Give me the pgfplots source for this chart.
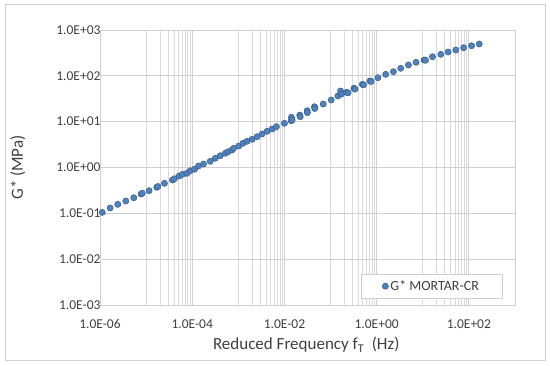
\documentclass[border=0pt]{standalone}
\usepackage{fontspec}
\setmainfont{Carlito}
\usepackage{pgfplots}
\pgfplotsset{compat=1.18}
\definecolor{mk}{HTML}{4F81BD}
\definecolor{mkd}{HTML}{385D8A}
\definecolor{txt}{HTML}{404040}
\definecolor{grd}{HTML}{D0D0D0}
\begin{document}
\begin{tikzpicture}[x=1pt,y=1pt]
\useasboundingbox (0,0) rectangle (550,365);
\draw[color=grd, line width=1pt] (5,5) rectangle (545,360);
\begin{axis}[
  at={(100pt,60pt)}, anchor=south west,
  scale only axis, width=415pt, height=275pt,
  xmode=log, ymode=log,
  xmin=1e-6, xmax=1e3, ymin=1e-3, ymax=1e3,
  xtick={1e-6,1e-4,1e-2,1,1e2},
  xticklabels={1.0E-06,1.0E-04,1.0E-02,1.0E+00,1.0E+02},
  ytick={1e-3,1e-2,1e-1,1,1e1,1e2,1e3},
  yticklabels={1.0E-03,1.0E-02,1.0E-01,1.0E+00,1.0E+01,1.0E+02,1.0E+03},
  minor xtick={1e-5,2e-5,3e-5,4e-5,5e-5,6e-5,7e-5,8e-5,9e-5,
               1e-3,2e-3,3e-3,4e-3,5e-3,6e-3,7e-3,8e-3,9e-3,
               1e-1,2e-1,3e-1,4e-1,5e-1,6e-1,7e-1,8e-1,9e-1,
               10,20,30,40,50,60,70,80,90},
  minor ytick={},
  xmajorgrids, xminorgrids, ymajorgrids,
  major grid style={grd, line width=0.8pt},
  minor grid style={grd!80, line width=0.6pt},
  major tick length=0pt, minor tick length=0pt,
  axis line style={grd, line width=0.8pt},
  tick label style={font=\fontsize{13.5}{15}\selectfont, text=txt},
  xticklabel style={anchor=center, yshift=-19pt},
  yticklabel style={anchor=east, xshift=4pt},
  xlabel={Reduced Frequency f\textsubscript{T}\ \ (Hz)},
  ylabel={G* (MPa)},
  label style={font=\fontsize{17}{20}\selectfont, text=txt},
  xlabel style={at={(axis description cs:0.497,-0.145)}, anchor=center},
  ylabel style={at={(axis description cs:-0.198,0.5)}, anchor=center, rotate=0},
  legend style={at={(0.969,0.025)}, anchor=south east, draw=grd, fill=white,
    font=\fontsize{14}{16}\selectfont, text=txt, inner xsep=21pt, inner ysep=4pt},
  legend cell align=left,
]
\addplot[only marks, mark=*, mark size=3.1pt, mark options={fill=mk, draw=mkd, line width=0.5pt}]
coordinates {
(1.12e-6,0.105) (1.66e-6,0.131) (2.43e-6,0.157) (3.63e-6,0.186) (5.41e-6,0.219)
(7.78e-6,0.264) (8.3e-6,0.275) (1.16e-5,0.312) (1.71e-5,0.370) (1.80e-5,0.385) (2.50e-5,0.452)
(3.73e-5,0.533) (4.12e-5,0.569) (5.21e-5,0.652) (6.15e-5,0.710) (7.67e-5,0.746)
(9.06e-5,0.851) (1.12e-4,0.914) (1.37e-4,1.079) (1.76e-4,1.191) (2.46e-4,1.365)
(3.16e-4,1.589) (4.06e-4,1.807) (5.21e-4,2.042) (6.0e-4,2.20) (7.29e-4,2.410) (7.91e-4,2.624)
(1.02e-3,2.944) (1.26e-3,3.373) (1.55e-3,3.733) (1.99e-3,4.121) (2.55e-3,4.699)
(3.27e-3,5.383) (4.21e-3,6.166) (5.41e-3,6.918) (6.70e-3,7.762) (1.0e-2,9.20)
(1.40e-2,10.5) (1.42e-2,12.45) (1.47e-2,10.86) (2.15e-2,13.96) (2.20e-2,12.8) (3.11e-2,17.34) (3.15e-2,15.7)
(4.49e-2,21.18) (4.55e-2,19.4) (6.93e-2,24.27) (0.1035,29.72) (0.144,36.3) (0.165,46.7)
(0.173,40.0) (0.223,43.8) (0.24,42.5) (0.321,53.5) (0.34,51.5) (0.489,65.3) (0.52,63.6)
(0.714,77.1) (0.76,75.6) (1.067,91.0) (1.570,107.9) (2.307,123.0) (3.327,145.9)
(4.887,172.2) (7.145,197.2) (10.67,221.3) (11.5,219.0) (16.26,261.2) (24.60,295.1)
(35.48,331.1) (52.12,366.4) (76.74,411.1) (114.6,453.9) (167.5,495.5)
};
\addlegendentry{G* MORTAR-CR}
\end{axis}
\end{tikzpicture}
\end{document}
